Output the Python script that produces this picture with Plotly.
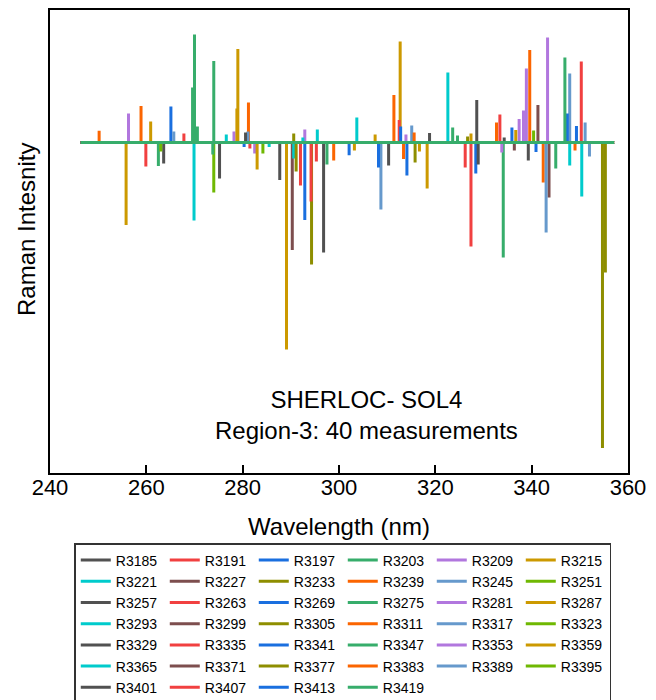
import plotly.graph_objects as go

# ---- data (wavelength nm, intensity a.u.) ----
x_start = 246.4
x_end = 357.1

series_names = [
    "R3185", "R3191", "R3197", "R3203", "R3209", "R3215", "R3221", "R3227", "R3233", "R3239",
    "R3245", "R3251", "R3257", "R3263", "R3269", "R3275", "R3281", "R3287", "R3293", "R3299",
    "R3305", "R3311", "R3317", "R3323", "R3329", "R3335", "R3341", "R3347", "R3353", "R3359",
    "R3365", "R3371", "R3377", "R3383", "R3389", "R3395", "R3401", "R3407", "R3413", "R3419",
]

palette = ["#515151", "#F14040", "#1A6FDF", "#37AD6B", "#B177DE", "#CC9900",
           "#00CBCC", "#7D4E4E", "#8E8E00", "#FB6501", "#6699CC", "#6FB802"]

# peaks per measurement: (wavelength, intensity)
p3185 = [(263.6, -210), (296.8, -1100), (328.6, 425)]
p3191 = [(259.9, -240), (292.0, -430), (327.4, -1040)]
p3197 = [(265.1, 360), (302.1, -127), (328.4, -310)]
p3203 = [(262.5, -235), (270.0, 1080), (323.6, 150)]
p3209 = [(256.3, 290), (292.9, 130), (338.9, 740)]
p3215 = [(255.8, -825), (279.0, 935), (303.2, -80), (318.3, -460)]
p3221 = [(269.9, -780), (295.5, 130), (350.4, -540)]
p3227 = [(290.3, -1075)]
p3233 = [(294.3, -1220), (326.7, 60)]
p3239 = [(250.2, 118), (281.2, 400), (313.4, -165), (339.6, 925)]
p3245 = [(265.7, 110), (308.7, -670), (347.9, 690)]
p3251 = [(263.0, -90), (274.0, -500)]
p3257 = [(275.2, -360), (310.3, -230), (334.3, 50)]
p3263 = [(267.8, 90), (294.2, -590), (333.4, 280)]
p3269 = [(280.3, -45), (308.2, -250), (335.9, 150)]
p3275 = [(269.6, 550), (274.0, 815), (345.0, -260)]
p3281 = [(278.2, 110), (313.9, 80), (337.4, 235), (343.3, 1050)]
p3287 = [(260.9, 210), (289.1, -2070), (312.7, 1010)]
p3293 = [(276.6, 80), (290.6, -160), (322.6, 700)]
p3299 = [(336.4, -80), (343.6, -550)]
p3305 = [(290.6, 90), (315.8, -200), (355.3, -1300)]
p3311 = [(258.9, 365), (298.9, -180), (332.7, 200), (349.0, -80)]
p3317 = [(281.1, 110), (315.1, 170), (352.0, -140)]
p3323 = [(284.2, -110)]
p3329 = [(280.6, 100), (287.7, -375), (328.9, -220)]
p3335 = [(281.5, -60), (312.5, 225), (350.3, 810)]
p3341 = [(292.9, -775), (312.8, 160), (347.4, 290)]
p3347 = [(270.6, 160), (297.5, -220), (334.1, -1150)]
p3353 = [(282.5, -110), (333.8, -100), (338.3, 320)]
p3359 = [(278.8, 340), (283.0, -270), (307.5, 80), (316.7, -90), (327.4, 90), (336.7, 125)]
p3365 = [(285.5, -45), (292.5, 50), (303.7, 250), (347.9, -230)]
p3371 = [(341.3, 375)]
p3377 = [(291.1, -290), (354.7, -3055)]
p3383 = [(311.4, 475), (315.6, 100), (342.4, -400)]
p3389 = [(343.0, -900), (351.1, 200)]
p3395 = [(340.4, 120)]
p3401 = [(318.8, 95), (339.3, -180)]
p3407 = [(295.3, -190), (326.2, -250)]
p3413 = [(314.1, -330), (340.9, -95), (349.3, 165)]
p3419 = [(273.8, -120), (324.6, 70), (346.9, 850)]

peaks = [p3185, p3191, p3197, p3203, p3209, p3215, p3221, p3227, p3233, p3239,
         p3245, p3251, p3257, p3263, p3269, p3275, p3281, p3287, p3293, p3299,
         p3305, p3311, p3317, p3323, p3329, p3335, p3341, p3347, p3353, p3359,
         p3365, p3371, p3377, p3383, p3389, p3395, p3401, p3407, p3413, p3419]

x_ticks = [240, 260, 280, 300, 320, 340, 360]

FONT = "Liberation Sans, Arial, sans-serif"

fig = go.Figure()
for i, (name, pk) in enumerate(zip(series_names, peaks)):
    xs = [x_start]
    ys = [0]
    for w, a in sorted(pk):
        xs += [w, w, w]
        ys += [0, a, 0]
    xs.append(x_end)
    ys.append(0)
    fig.add_trace(go.Scatter(
        x=xs, y=ys, mode="lines", name=name,
        line=dict(color=palette[i % len(palette)], width=3),
    ))

fig.update_layout(
    width=656, height=700,
    margin=dict(l=50, r=28, t=10, b=227, autoexpand=False),
    paper_bgcolor="white", plot_bgcolor="white",
    font=dict(family=FONT, color="black"),
    showlegend=True,
    legend=dict(
        orientation="h", x=0.0420, y=-0.1512, xanchor="left", yanchor="top",
        entrywidth=44, entrywidthmode="pixels",
        font=dict(size=14, family=FONT, color="black"),
        bordercolor="#333333", borderwidth=1.5, bgcolor="white",
        tracegroupgap=0, traceorder="normal",
    ),
    annotations=[
        dict(
            text="SHERLOC- SOL4<br>Region-3: 40 measurements",
            xref="paper", yref="paper", x=0.548, y=0.125,
            xanchor="center", yanchor="middle", showarrow=False,
            font=dict(size=24, family=FONT, color="black"),
        ),
        dict(
            text="Raman Intesnity", textangle=-90,
            xref="paper", yref="paper", x=-0.0398, y=0.527,
            xanchor="center", yanchor="middle", showarrow=False,
            font=dict(size=24, family=FONT, color="black"),
        ),
    ],
)

fig.update_xaxes(
    range=[240, 360], tickvals=x_ticks, ticktext=[str(t) for t in x_ticks],
    ticks="inside", ticklen=8, tickwidth=1.5, tickcolor="black",
    showline=True, linecolor="black", linewidth=1.5, mirror=True,
    showgrid=False, zeroline=False,
    tickfont=dict(size=22, family=FONT, color="black"),
    ticklabelstandoff=-6,
    title=dict(text="Wavelength (nm)", font=dict(size=24, family=FONT, color="black"), standoff=19),
)
fig.update_yaxes(
    range=[-3305, 1325], showticklabels=False, ticks="",
    showline=True, linecolor="black", linewidth=1.5, mirror=True,
    showgrid=False, zeroline=False,
)

fig.write_html("out.html")
